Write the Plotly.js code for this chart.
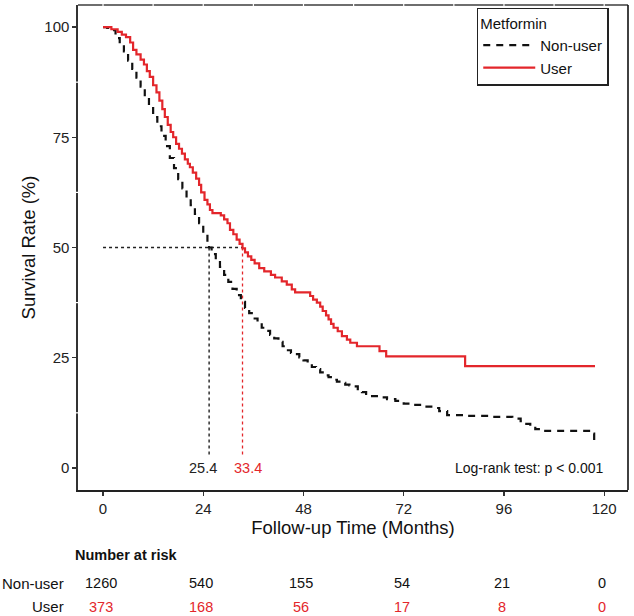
<!DOCTYPE html>
<html>
<head>
<meta charset="utf-8">
<script src="https://cdn.plot.ly/plotly-3.0.1.min.js"></script>
<style>html,body{margin:0;padding:0;background:#fff;}#chart{width:634px;height:616px;}</style>
</head>
<body>
<div id="chart"></div>
<script>
// ---- Data ----
const groupNames = ["Non-user", "User"];
const nonUserTime = [0,1,2,3,4,5,6,7,8,9,10,11,12,13,14,15,16,17,18,19,20,21,22,23,24,25,25.4,26,27,28,29,30,31,32,33,34,35,36,37,38,39,40,41,42,43,44,45,46,47,48,49,50,51,52,53,54,55,56,57,58,59,60,61,62,63,64,66,68,70,72,74,77,79,80.5,82.4,87,93,98,100,101,102.3,103.5,104.7,116.8,117.6,118.6];
const nonUserSurv = [100,99.8,99.3,97.5,96.3,94.5,92.4,90.5,88.5,86.5,84,82,79.6,77.5,75.3,73,70.3,68,65.5,63.4,61.3,59.6,57.6,55.5,53.3,50.8,50,48.5,47,45.6,43.8,42.2,40.6,39.2,37.7,36.3,35.1,33.9,32.9,31.8,31.1,30.2,29.4,28.6,27.6,26.7,26.1,25.8,25.1,24.4,23.6,22.9,22.4,21.7,21,20.6,20,19.6,19.3,18.9,18.7,18.5,17.6,17.2,16.8,16.3,16,15.6,15.2,14.6,14.3,13.9,13.6,12.9,12,11.8,11.6,11.2,10.6,10,9.4,8.8,8.4,7.8,6,6];
const userTime = [0,2,3.5,4.5,5.5,6.5,7.2,8,9,9.8,10.5,11.2,12,12.8,13.5,14.2,14.8,15.5,16.2,16.8,17.5,18.2,18.9,19.6,20.3,20.8,21.5,22.3,23,23.5,24.3,25,25.6,26.2,28.2,29,29.8,30.4,31.2,32,32.7,33.4,34,34.7,35.5,36.3,37.4,38.6,40.2,41.2,42.8,44,45.2,46,49.6,50.3,51.2,52,52.6,53.4,54,54.6,55.2,56.2,57.2,58.4,59.2,60.8,66.2,67.8,86.7,117.8];
const userSurv = [100,99.5,98.9,98.3,97.7,96.5,94.8,93.8,92.6,91.5,90,88.7,86.8,85.2,83.3,81.4,79.6,77.8,76.2,75,73.5,72.4,71.3,70,69,68.2,67,65.6,64.2,62.5,60.8,59.8,58.5,57.8,57.3,56.4,55.5,54,53,51.8,50.8,49.8,48.9,48,47.2,46.4,45.3,44.6,43.8,43.2,42.3,41.6,40.5,39.8,39,38.2,37.5,36.6,35.6,34.6,33.7,32.7,31.8,31,29.9,29.1,28.4,27.6,26.5,25.3,23.1,23.1];
const medianTimes = [25.4, 33.4];
const medianLevel = 50;
const medianLineBottom = 3;
const riskTimes = [0, 24, 48, 72, 96, 120];
const nonUserRisk = [1260, 540, 155, 54, 21, 0];
const userRisk = [373, 168, 56, 17, 8, 0];
const yTicks = [0, 25, 50, 75, 100];
const pValueText = "Log-rank test: p < 0.001";

// ---- Styles ----
const RED = "#e3262b";
const BLACK = "#111111";
const FONT = "Liberation Sans, Arial, sans-serif";
const medianColors = [BLACK, RED];

const traces = [];
// median guide lines
traces.push({x:[0, medianTimes[1]], y:[medianLevel, medianLevel], mode:"lines", line:{color:"#222", width:1.3, dash:"dot"}, showlegend:false, hoverinfo:"skip"});
medianTimes.forEach((m,i)=>{
  traces.push({x:[m,m], y:[medianLevel, medianLineBottom], mode:"lines", line:{color:medianColors[i], width:1.3, dash:"dot"}, showlegend:false, hoverinfo:"skip"});
});
traces.push({x:nonUserTime, y:nonUserSurv, name:groupNames[0], mode:"lines", line:{shape:"hv", color:BLACK, width:2.2, dash:"7px,6px"}});
traces.push({x:userTime, y:userSurv, name:groupNames[1], mode:"lines", line:{shape:"hv", color:RED, width:2.2}});

const annotations = [];
medianTimes.forEach((m,i)=>{
  annotations.push({x:m, y:0, xref:"x", yref:"y", text:String(m), showarrow:false, xanchor:"center", yanchor:"middle", xshift: i===0 ? -6 : 5, font:{family:FONT, size:14.5, color: i===0 ? "#222" : RED}});
});
annotations.push({x:0.958, y:0, xref:"paper", yref:"y", text:pValueText, showarrow:false, xanchor:"right", yanchor:"middle", font:{family:FONT, size:14, color:"#111"}});
annotations.push({x:-0.009, y:-0.134, xref:"paper", yref:"paper", text:"<b>Number at risk</b>", showarrow:false, xanchor:"left", yanchor:"middle", font:{family:FONT, size:14.5, color:"#111"}});
const rowY = [-0.1918, -0.2412];
const rowData = [nonUserRisk, userRisk];
const rowColors = ["#111", RED];
groupNames.forEach((g,i)=>{
  annotations.push({x:-0.022, y:rowY[i], xref:"paper", yref:"paper", text:g, showarrow:false, xanchor:"right", yanchor:"middle", font:{family:FONT, size:15, color:"#111"}});
  riskTimes.forEach((t,j)=>{
    annotations.push({x:t, y:rowY[i], xref:"x", yref:"paper", text:String(rowData[i][j]), showarrow:false, xanchor:"center", yanchor:"middle", xshift:-2, font:{family:FONT, size:14.5, color:rowColors[i]}});
  });
});

const shapes = [];
// top border (grey) and right border
shapes.push({type:"line", xref:"paper", yref:"paper", x0:0, x1:1, y0:1, y1:1, line:{color:"#6e6e6e", width:2}});
shapes.push({type:"line", xref:"paper", yref:"paper", x0:1, x1:1, y0:0, y1:1, line:{color:"#111", width:1.6}});
// small white breaks on the top border every 12 months
for (let t = 0; t <= 120; t += 12) {
  shapes.push({type:"line", xref:"x", yref:"paper", x0:t, x1:t, y0:0.993, y1:1.01, line:{color:"#ffffff", width:1.2}});
}
// small white breaks on the left axis at minor positions
for (let v = 12.5; v < 100; v += 25) {
  shapes.push({type:"line", xref:"paper", yref:"y", x0:-0.006, x1:0.006, y0:v, y1:v, line:{color:"#ffffff", width:1.2}});
}

const layout = {
  width:634, height:616,
  margin:{l:78, r:6, t:5, b:126},
  paper_bgcolor:"#fff", plot_bgcolor:"#fff",
  font:{family:FONT, color:"#222"},
  xaxis:{range:[-5.99, 125.7], tickvals:riskTimes, ticktext:riskTimes.map(String), ticks:"outside", ticklen:4, tickwidth:1.2, tickcolor:"#333",
    showline:true, linecolor:"#222", linewidth:1.6, showgrid:false, zeroline:false, tickfont:{family:FONT, size:15, color:"#222"},
    title:{text:"Follow-up Time (Months)", font:{family:FONT, size:18.5, color:"#111"}, standoff:1}},
  yaxis:{range:[-5, 105], tickvals:yTicks, ticks:"outside", ticklen:4, tickwidth:1.2, tickcolor:"#333",
    showline:true, linecolor:"#333", linewidth:1.6, showgrid:false, zeroline:false, tickfont:{family:FONT, size:15, color:"#222"},
    title:{text:"Survival Rate (%)", font:{family:FONT, size:18.5, color:"#111"}, standoff:4}},
  legend:{x:0.965, y:0.994, xanchor:"right", yanchor:"top", bgcolor:"#fff", bordercolor:"#222", borderwidth:1.5,
    title:{text:"Metformin", font:{family:FONT, size:15, color:"#111"}}, font:{family:FONT, size:15, color:"#111"}, itemwidth:52, tracegroupgap:0},
  showlegend:true,
  annotations:annotations,
  shapes:shapes
};

Plotly.newPlot("chart", traces, layout, {displayModeBar:false, staticPlot:true});
</script>
</body>
</html>
